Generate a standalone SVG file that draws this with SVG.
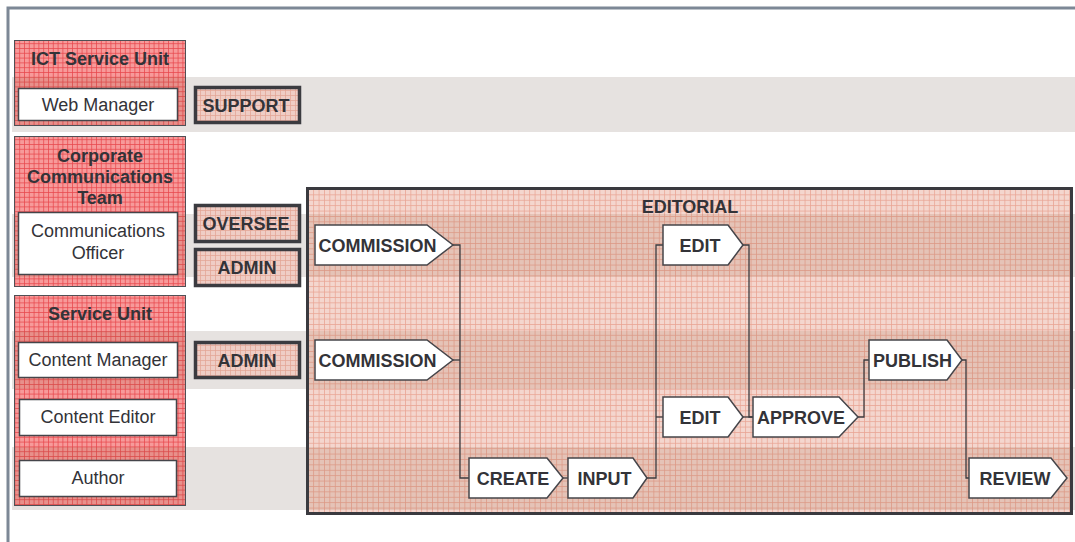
<svg xmlns="http://www.w3.org/2000/svg" width="1075" height="542" viewBox="0 0 1075 542">
<defs>
<pattern id="gridRed" width="4.8" height="4.8" patternUnits="userSpaceOnUse">
<rect width="4.8" height="4.8" fill="#f79a9a"/>
<path d="M0 0.4H4.8M0.4 0V4.8" stroke="#e8464b" stroke-width="0.8" fill="none"/>
</pattern>
<pattern id="gridPink" width="5.4" height="5.4" patternUnits="userSpaceOnUse">
<rect width="5.4" height="5.4" fill="#f4d6ce"/>
<path d="M0 0.4H5.4M0.4 0V5.4" stroke="#e8a493" stroke-width="0.8" fill="none"/>
</pattern>
<pattern id="gridAct" width="5" height="5" patternUnits="userSpaceOnUse">
<rect width="5" height="5" fill="#efcdc5"/>
<path d="M0 0.4H5M0.4 0V5" stroke="#e2a392" stroke-width="0.8" fill="none"/>
</pattern>
</defs>
<style>
text{font-family:"Liberation Sans",Arial,sans-serif;font-size:18px;fill:#333338;text-anchor:middle}
.b{font-weight:bold}
.band{fill:#e6e2e0}
.bandin{fill:#965438;opacity:0.15}
.lane{fill:url(#gridRed);stroke:#505055;stroke-width:1}
.role{fill:#ffffff;stroke:#45454a;stroke-width:1.5}
.act{fill:url(#gridAct);stroke:#3b3b40;stroke-width:3.5}
.step{fill:#ffffff;stroke:#45454a;stroke-width:1.5}
.con{fill:none;stroke:#3c3c40;stroke-width:1.3}
</style>
<rect width="1075" height="542" fill="#ffffff"/>
<rect x="8" y="8" width="1200" height="700" fill="none" stroke="#7d8896" stroke-width="3"/>
<g id="bands">
<rect class="band" x="12" y="77" width="1063" height="55"/>
<rect class="band" x="12" y="214" width="1063" height="63"/>
<rect class="band" x="12" y="331" width="1063" height="58"/>
<rect class="band" x="12" y="447" width="1063" height="63"/>
</g>
<g id="lane-ict">
<rect class="lane" x="14.5" y="40.5" width="171" height="85"/>
<rect class="bandin" x="15" y="77" width="170" height="48"/>
<text class="b" x="100" y="65">ICT Service Unit</text>
</g>
<g id="role-web-manager">
<rect class="role" x="18.5" y="88.5" width="159" height="32"/>
<text x="98" y="111">Web Manager</text>
</g>
<g id="lane-corporate">
<rect class="lane" x="14.5" y="136.5" width="171" height="150"/>
<rect class="bandin" x="15" y="214" width="170" height="63"/>
<text class="b" x="100" y="162">Corporate</text>
<text class="b" x="100" y="183">Communications</text>
<text class="b" x="100" y="204">Team</text>
</g>
<g id="role-comms-officer">
<rect class="role" x="18.5" y="212.5" width="159" height="62"/>
<text x="98" y="237">Communications</text>
<text x="98" y="259">Officer</text>
</g>
<g id="lane-service">
<rect class="lane" x="14.5" y="295.5" width="171" height="210"/>
<rect class="bandin" x="15" y="331" width="170" height="58"/>
<rect class="bandin" x="15" y="447" width="170" height="58"/>
<text class="b" x="100" y="320">Service Unit</text>
</g>
<g id="role-content-manager">
<rect class="role" x="18.5" y="342.5" width="159" height="35"/>
<text x="98" y="366">Content Manager</text>
</g>
<g id="role-content-editor">
<rect class="role" x="19.5" y="399.5" width="157" height="36"/>
<text x="98" y="423">Content Editor</text>
</g>
<g id="role-author">
<rect class="role" x="19.5" y="460.5" width="157" height="36"/>
<text x="98" y="484">Author</text>
</g>
<g id="act-support">
<rect class="act" x="195.5" y="87.5" width="104" height="35"/>
<text class="b" x="246" y="111.5">SUPPORT</text>
</g>
<g id="act-oversee">
<rect class="act" x="195.5" y="205.5" width="104" height="36"/>
<text class="b" x="246" y="230">OVERSEE</text>
</g>
<g id="act-admin-1">
<rect class="act" x="195.5" y="249.5" width="104" height="36"/>
<text class="b" x="247" y="274">ADMIN</text>
</g>
<g id="act-admin-2">
<rect class="act" x="195.5" y="342.5" width="104" height="35"/>
<text class="b" x="247" y="366.5">ADMIN</text>
</g>
<g id="editorial">
<rect x="307.5" y="188.5" width="764" height="325" fill="url(#gridPink)"/>
<rect class="bandin" x="309" y="214" width="761" height="63"/>
<rect class="bandin" x="309" y="331" width="761" height="58"/>
<rect class="bandin" x="309" y="447" width="761" height="63"/>
<rect x="307.5" y="188.5" width="764" height="325" fill="none" stroke="#3a3a3f" stroke-width="3"/>
<text class="b" x="690" y="213">EDITORIAL</text>
</g>
<g id="connectors">
<path class="con" d="M453 245H460V478H469"/>
<path class="con" d="M453 360H460"/>
<path class="con" d="M563 478H568"/>
<path class="con" d="M647 478H656V245H663"/>
<path class="con" d="M656 417H663"/>
<path class="con" d="M743 245H749V417H753"/>
<path class="con" d="M743 417H753"/>
<path class="con" d="M858 417H864V360H869"/>
<path class="con" d="M962 360H966V478H969"/>
</g>
<g id="step-commission-1">
<path class="step" d="M315 225H427L453 245L427 265H315Z"/>
<text class="b" x="377.5" y="251.5">COMMISSION</text>
</g>
<g id="step-commission-2">
<path class="step" d="M315 340H427L453 360L427 380H315Z"/>
<text class="b" x="377.5" y="366.5">COMMISSION</text>
</g>
<g id="step-create">
<path class="step" d="M469 458H547L563 478L547 498H469Z"/>
<text class="b" x="513" y="484.5">CREATE</text>
</g>
<g id="step-input">
<path class="step" d="M568 458H633L647 478L633 498H568Z"/>
<text class="b" x="604.5" y="484.5">INPUT</text>
</g>
<g id="step-edit-1">
<path class="step" d="M663 225H728L743 245L728 265H663Z"/>
<text class="b" x="700" y="251.5">EDIT</text>
</g>
<g id="step-edit-2">
<path class="step" d="M663 397H728L743 417L728 437H663Z"/>
<text class="b" x="700" y="423.5">EDIT</text>
</g>
<g id="step-approve">
<path class="step" d="M753 397H839L858 417L839 437H753Z"/>
<text class="b" x="801" y="423.5">APPROVE</text>
</g>
<g id="step-publish">
<path class="step" d="M869 340H947L962 360L947 380H869Z"/>
<text class="b" x="912.5" y="366.5">PUBLISH</text>
</g>
<g id="step-review">
<path class="step" d="M969 458H1051L1067 478L1051 498H969Z"/>
<text class="b" x="1015" y="484.5">REVIEW</text>
</g>
</svg>
